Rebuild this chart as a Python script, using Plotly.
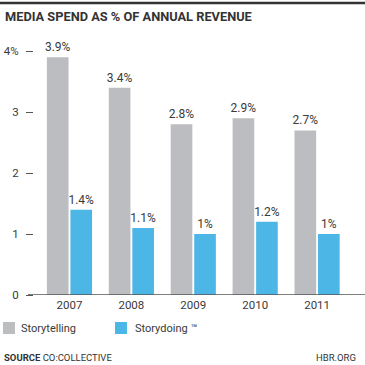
import plotly.graph_objects as go

years = ["2007", "2008", "2009", "2010", "2011"]
storytelling = [3.9, 3.4, 2.8, 2.9, 2.7]
storydoing = [1.4, 1.1, 1.0, 1.2, 1.0]
storytelling_labels = ["3.9%", "3.4%", "2.8%", "2.9%", "2.7%"]
storydoing_labels = ["1.4%", "1.1%", "1%", "1.2%", "1%"]
ytick_vals = [0, 1, 2, 3, 4]
ytick_text = ["0", "1", "2", "3", "4%"]
series_names = ["Storytelling", "Storydoing \u2122"]

FONT = "Roboto"
GRAY = "#bcbdc0"
BLUE = "#4cb6e7"
TXT = "#3a3a3a"

W, H = 365, 365
L, R, T, B = 34, 0, 39, 70
pw = W - L - R
ph = H - T - B

def px_x(p):
    return (p - L) / pw

def px_y(p):
    return (H - B - p) / ph

fig = go.Figure()
fig.add_trace(go.Bar(
    x=years, y=storytelling, name=series_names[0],
    marker=dict(color=GRAY, line=dict(width=0)),
    text=storytelling_labels, textposition="outside", constraintext="none",
    textfont=dict(family=FONT, size=12, color=TXT), cliponaxis=False,
))
fig.add_trace(go.Bar(
    x=years, y=storydoing, name=series_names[1],
    marker=dict(color=BLUE, line=dict(width=0)),
    text=storydoing_labels, textposition="outside", constraintext="none",
    textfont=dict(family=FONT, size=12, color=TXT), cliponaxis=False,
))

shapes = [
    dict(type="line", xref="paper", yref="y", x0=px_x(28), x1=1.0, y0=0, y1=0,
         line=dict(color="#555", width=1.5)),
    dict(type="line", xref="paper", yref="paper", x0=px_x(0), x1=1.0,
         y0=px_y(3), y1=px_y(3), line=dict(color="#333", width=2.5)),
]
annotations = [
    dict(text="<b>MEDIA SPEND AS % OF ANNUAL REVENUE</b>", xref="paper", yref="paper",
         x=px_x(3), y=px_y(16), xanchor="left", yanchor="middle", showarrow=False,
         font=dict(family=FONT, size=12.8, color="#333")),
    dict(text="<b>SOURCE</b> CO:COLLECTIVE", xref="paper", yref="paper",
         x=px_x(2), y=px_y(357), xanchor="left", yanchor="middle", showarrow=False,
         font=dict(family=FONT, size=9.5, color="#333")),
    dict(text="HBR.ORG", xref="paper", yref="paper",
         x=px_x(358), y=px_y(357), xanchor="right", yanchor="middle", showarrow=False,
         font=dict(family=FONT, size=9.5, color="#333")),
]

# legend (swatch + label)
legend_items = [(3, 19, GRAY, series_names[0]), (115, 133, BLUE, series_names[1])]
for sx, tx, col, name in legend_items:
    shapes.append(dict(type="rect", xref="paper", yref="paper",
                       x0=px_x(sx), x1=px_x(sx + 12), y0=px_y(334), y1=px_y(322),
                       fillcolor=col, line=dict(width=0)))
    annotations.append(dict(text=name, xref="paper", yref="paper",
                            x=px_x(tx), y=px_y(328), xanchor="left", yanchor="middle",
                            showarrow=False, font=dict(family=FONT, size=11, color=TXT)))

fig.update_layout(
    width=W, height=H,
    margin=dict(l=L, r=R, t=T, b=B, pad=0),
    paper_bgcolor="white", plot_bgcolor="white",
    barmode="group", bargap=0.24, bargroupgap=0.08,
    font=dict(family=FONT, color=TXT),
    showlegend=False,
    xaxis=dict(range=[-0.573, 4.774], showline=False, showgrid=False, zeroline=False,
               automargin=False,
               ticks="", tickfont=dict(family=FONT, size=11.5, color=TXT), ticklabelstandoff=1),
    yaxis=dict(range=[0, 4.2], tickvals=ytick_vals, ticktext=ytick_text,
               showgrid=False, zeroline=False, showline=False, automargin=False,
               ticks="outside", ticklen=7, tickwidth=1, tickcolor="#555",
               tickfont=dict(family=FONT, size=11.5, color=TXT), ticklabelstandoff=5),
    shapes=shapes,
    annotations=annotations,
)

fig.write_html("out.html", config={"displayModeBar": False},
               post_script="document.body.style.margin='0';document.body.style.overflow='hidden';")
